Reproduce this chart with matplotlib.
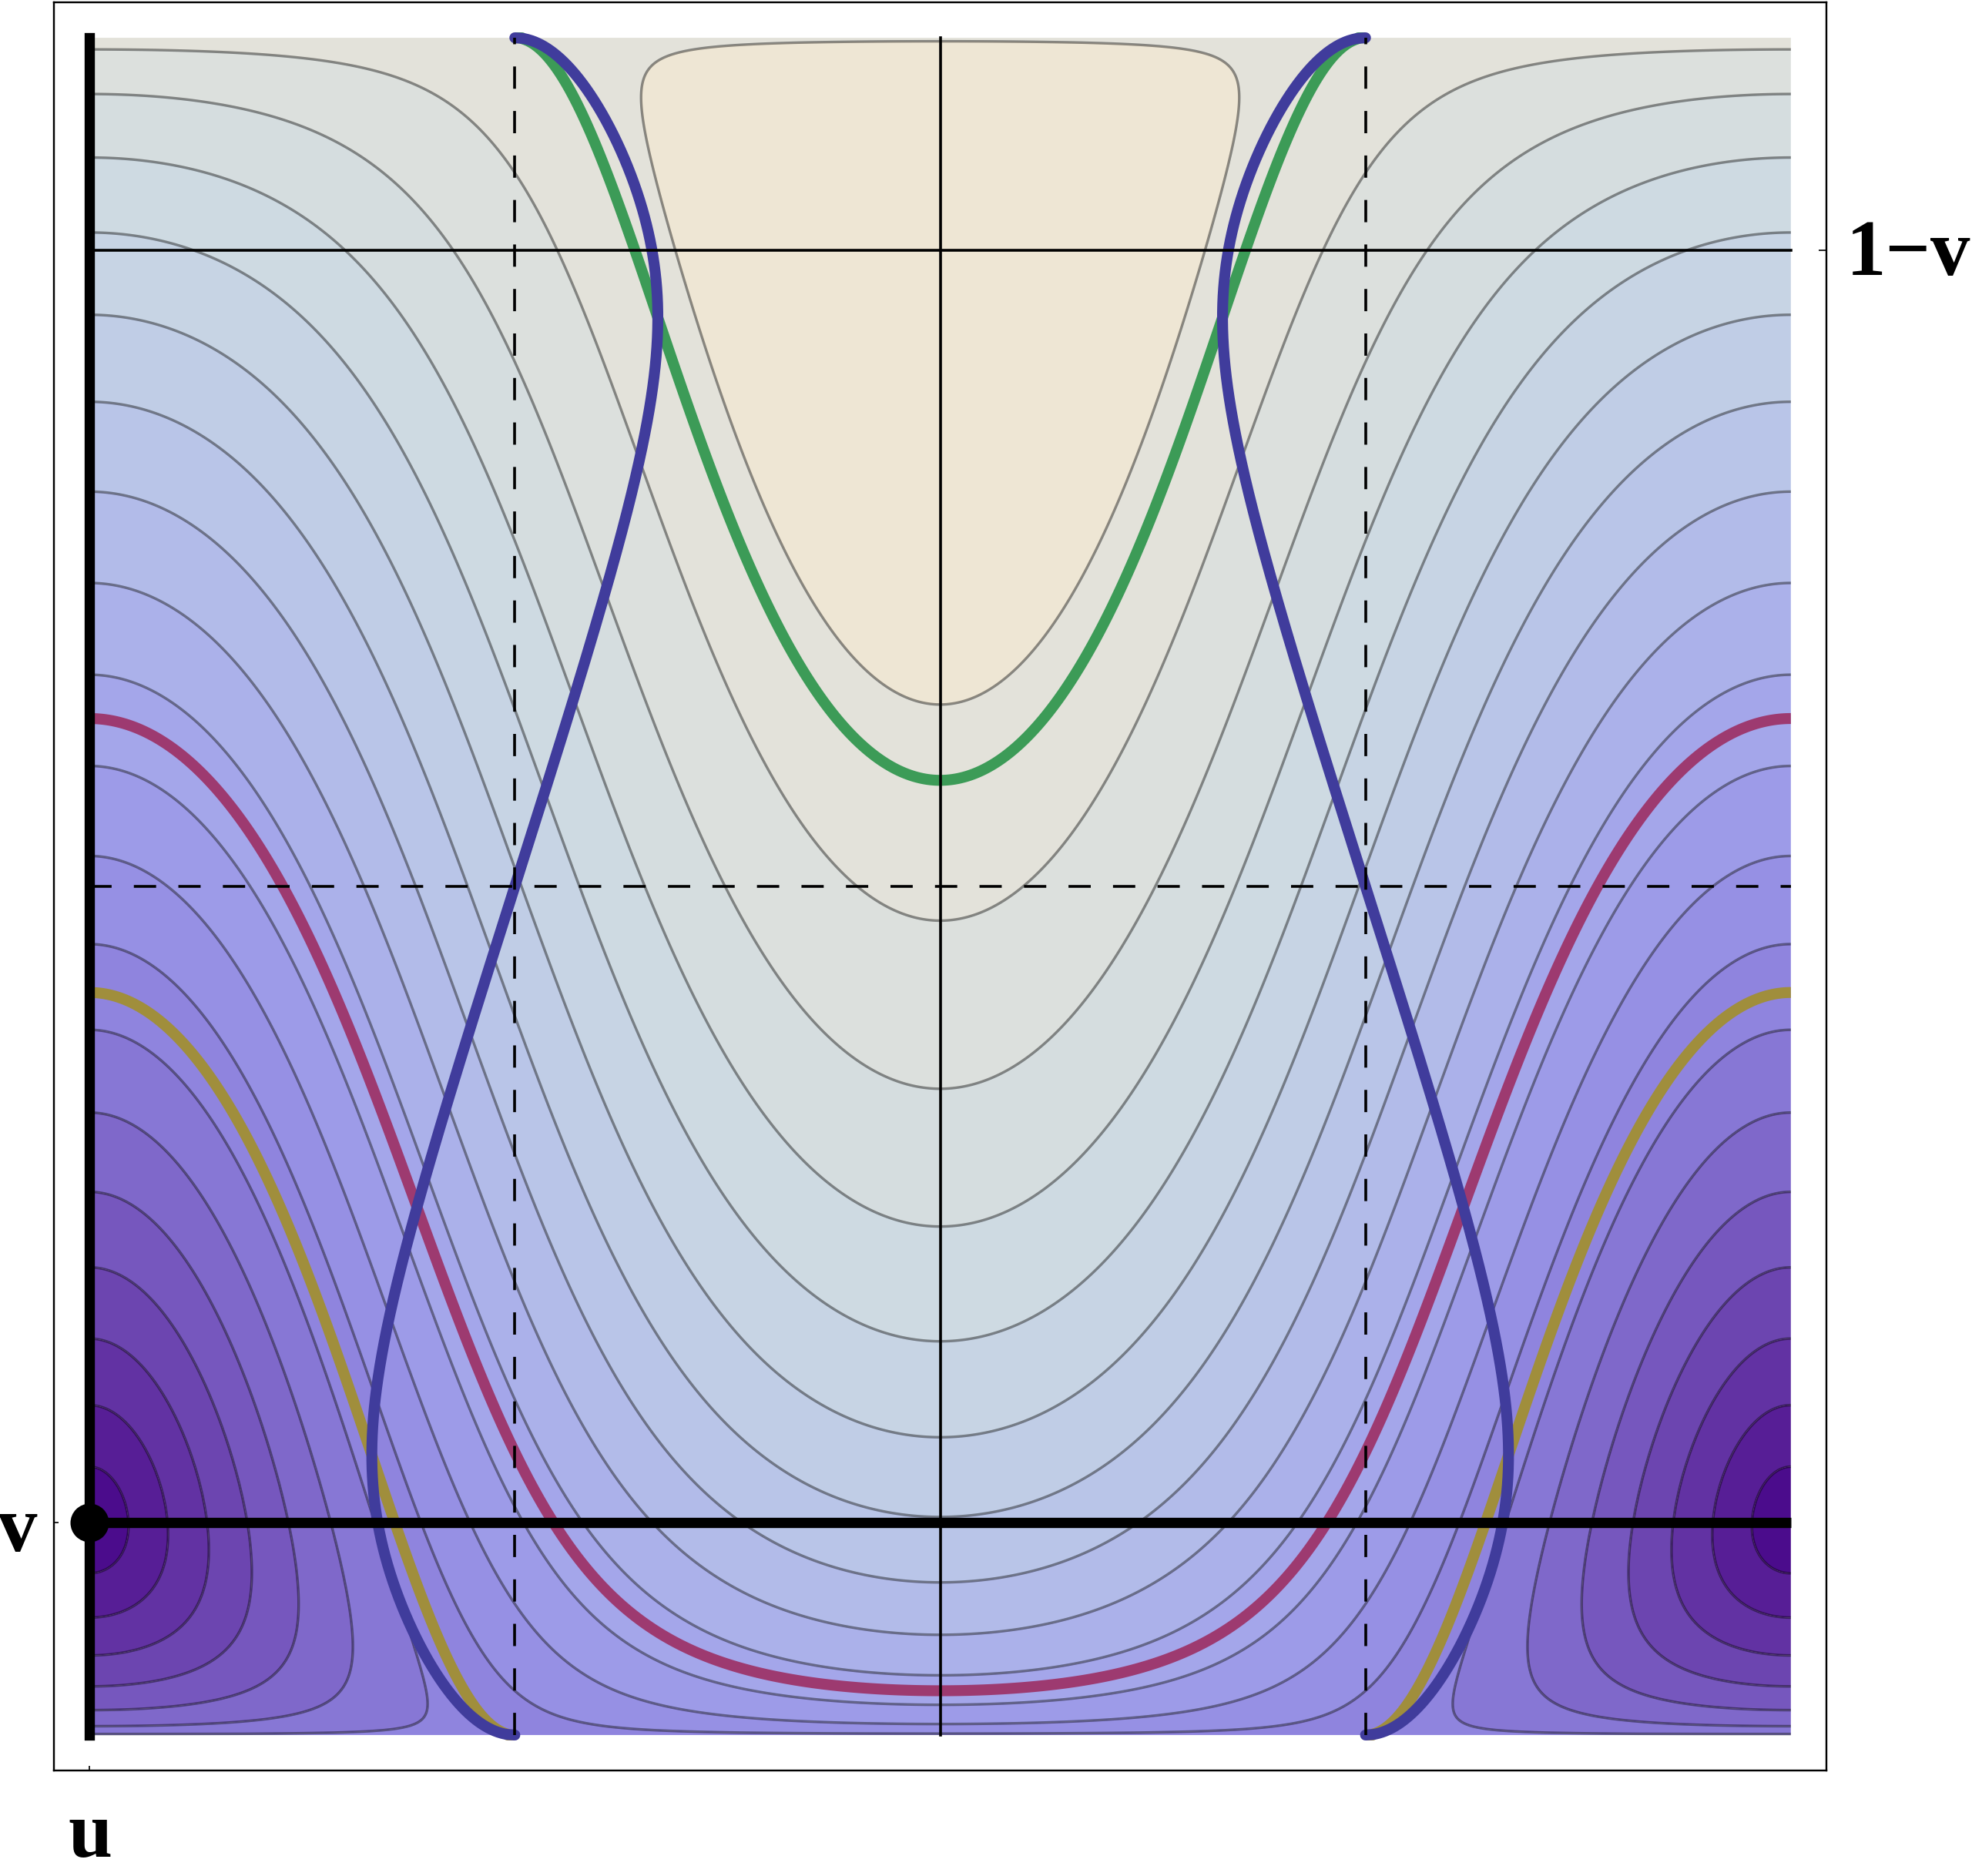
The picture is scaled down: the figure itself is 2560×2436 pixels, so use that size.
import numpy as np
import matplotlib
matplotlib.use("Agg")
import matplotlib.pyplot as plt
from matplotlib.colors import ListedColormap, BoundaryNorm

# ---------------- data ----------------
v = 0.125                       # marked point (u = 0, v); 1 - v is marked on the right
n_contours = 20                 # evenly spaced contour levels of the distance field
d_min, d_max = 0.0, 1.996       # sampled range of the chordal distance
highlight_names = ["green", "magenta", "olive"]
highlight_levels = [2 * np.sqrt(1 - v), 1.0, 2 * np.sqrt(v)]
highlight_colors = ["#3c9b57", "#9d3a70", "#a08e3c"]
band_colors = ["#4b0c8c", "#571e96", "#6232a3", "#6c45b0", "#7657be", "#7f68ca",
               "#8777d5", "#8f84de", "#9690e4", "#9d9be8", "#a4a6ea", "#abb1ea",
               "#b2bbe9", "#b9c5e8", "#c0cde6", "#c7d4e4", "#cedae2", "#d5dddf",
               "#dce0dd", "#e3e2da", "#eee6d4"]
blue_color = "#403c9c"
tick_labels = {"left": "v", "right": "1\u2212v", "bottom": "u"}

# ---------------- field: chordal distance on the sphere ----------------
# y = sin^2(theta/2), u = phi / (2 pi); point at (theta_v, 0) with y = v
a = 1 - 2 * v
b = 2 * np.sqrt(v * (1 - v))
uu = np.linspace(0, 1, 1401)
yy = np.linspace(1e-7, 1 - 1e-7, 1401)
U, Y = np.meshgrid(uu, yy)
G = a * (1 - 2 * Y) + b * 2 * np.sqrt(Y * (1 - Y)) * np.cos(2 * np.pi * U)
D = np.sqrt(np.clip(2 - 2 * G, 0, None))

levels = d_min + (d_max - d_min) * np.arange(1, n_contours + 1) / (n_contours + 1)

# inflection locus of the contours (blue curve): cubic in c = cos(2 pi u)
yb = np.linspace(0, 1, 3001)
ub = []
for yv in yb:
    c3 = -b ** 2 * ((1 - 2 * yv) ** 2 + 1)
    c1 = 4 * a ** 2 * yv * (1 - yv) + 2 * b ** 2 * (1 - 2 * yv) ** 2 + b ** 2
    c0 = -4 * a * b * (1 - 2 * yv) * np.sqrt(yv * (1 - yv))
    r = np.roots([c3, 0.0, c1, c0])
    r = r[np.abs(r.imag) < 1e-9].real
    c = r[np.argmin(np.abs(r))]
    ub.append(np.arccos(np.clip(c, -1, 1)) / (2 * np.pi))
ub = np.array(ub)

# ---------------- figure ----------------
W, H = 2560, 2436
fig = plt.figure(figsize=(W / 200, H / 200), dpi=200)
ax = fig.add_axes([70 / W, 1 - 2299 / H, 2301 / W, 2296 / H])
pad = 0.0209
ax.set_xlim(-pad, 1 + pad)
ax.set_ylim(-pad, 1 + pad)

cmap = ListedColormap(band_colors)
bounds = np.concatenate([[d_min - 1e-6], levels, [2.0 + 1e-6]])
norm = BoundaryNorm(bounds, cmap.N)
ax.contourf(U, Y, D, levels=bounds, cmap=cmap, norm=norm, antialiased=True)
ax.contour(U, Y, D, levels=levels, colors="k", alpha=0.42, linewidths=1.2)

for lev, col in zip(highlight_levels, highlight_colors):
    ax.contour(U, Y, D, levels=[lev], colors=[col], linewidths=5.1)

ax.plot(ub, yb, color=blue_color, lw=5.1, solid_capstyle="round")
ax.plot(1 - ub, yb, color=blue_color, lw=5.1, solid_capstyle="round")

# reference lines
dash = (0, (8, 8))
ax.plot([0, 1], [0.5, 0.5], color="k", lw=1.3, ls=dash)
ax.plot([0.25, 0.25], [0, 1], color="k", lw=1.3, ls=dash)
ax.plot([0.75, 0.75], [0, 1], color="k", lw=1.3, ls=dash)
ax.plot([0, 1], [1 - v, 1 - v], color="k", lw=1.3)
ax.plot([0.5, 0.5], [0, 1], color="k", lw=1.3)

ax.plot([0, 0], [0, 1], color="k", lw=4.8, solid_capstyle="projecting")
ax.plot([0, 1], [v, v], color="k", lw=4.8, solid_capstyle="butt")
ax.plot([0], [v], "o", color="k", ms=17)

# frame and ticks
for s in ax.spines.values():
    s.set_linewidth(0.8)
    s.set_color("#222222")
ax.set_xticks([0])
ax.set_yticks([v])
ax.set_xticklabels([])
ax.set_yticklabels([])
ax.tick_params(direction="in", length=2, width=0.6)
axr = ax.twinx()
axr.set_ylim(-pad, 1 + pad)
axr.set_yticks([1 - v])
axr.set_yticklabels([])
axr.tick_params(direction="in", length=3.5, width=0.6)

fam = ["Liberation Serif", "DejaVu Serif"]
fig.text(48 / W, 1 - 2014 / H, tick_labels["left"], fontsize=37, fontweight="bold",
         family=fam, ha="right", va="baseline")
fig.text(2397 / W, 1 - 357 / H, tick_labels["right"], fontsize=37, fontweight="bold",
         family=fam, ha="left", va="baseline")
fig.text(117 / W, 1 - 2411 / H, tick_labels["bottom"], fontsize=37, fontweight="bold",
         family=fam, ha="center", va="baseline")

fig.savefig("out.png", dpi=200, facecolor="white")
